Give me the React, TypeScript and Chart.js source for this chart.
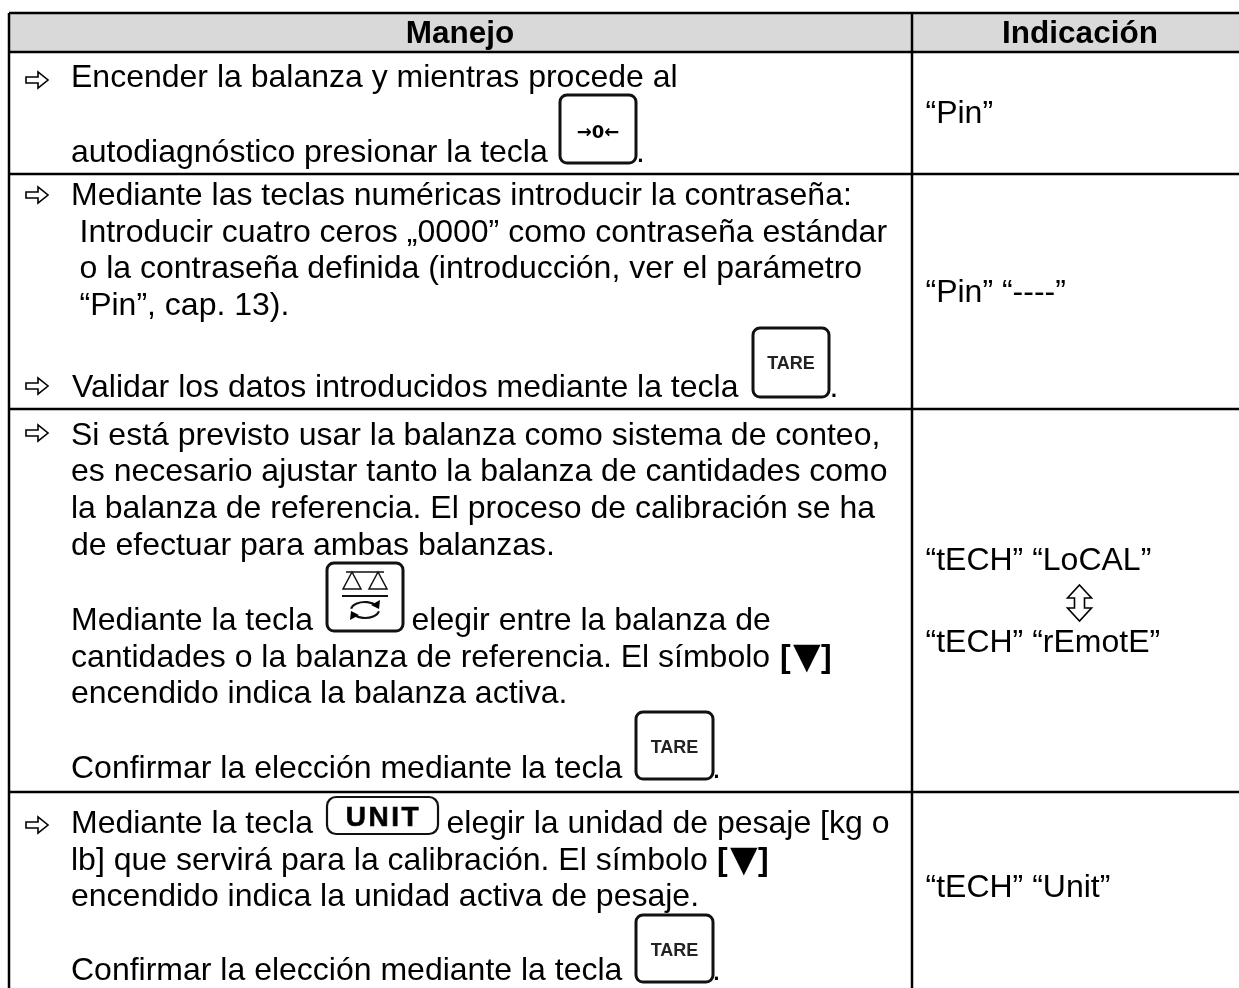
import React, { useEffect, useRef } from "react";
import { Chart, registerables } from "chart.js";

Chart.register(...registerables);

const headerLabels = ["Manejo", "Indicación"];
const leftColumnLines = [
  "Encender la balanza y mientras procede al",
  "autodiagnóstico presionar la tecla",
  ".",
  "Mediante las teclas numéricas introducir la contraseña:",
  "Introducir cuatro ceros „0000” como contraseña estándar",
  "o la contraseña definida (introducción, ver el parámetro",
  "“Pin”, cap. 13).",
  "Validar los datos introducidos mediante la tecla",
  ".",
  "Si está previsto usar la balanza como sistema de conteo,",
  "es necesario ajustar tanto la balanza de cantidades como",
  "la balanza de referencia. El proceso de calibración se ha",
  "de efectuar para ambas balanzas.",
  "Mediante la tecla",
  "elegir entre la balanza de",
  "cantidades o la balanza de referencia. El símbolo",
  "encendido indica la balanza activa.",
  "Confirmar la elección mediante la tecla",
  ".",
  "Mediante la tecla",
  "elegir la unidad de pesaje [kg o",
  "lb] que servirá para la calibración. El símbolo",
  "encendido indica la unidad activa de pesaje.",
  "Confirmar la elección mediante la tecla",
  ".",
];
const leftLineX = [71, 71, 636, 71, 79.5, 79.5, 79.5, 72, 829.5, 71, 71, 71, 71, 71, 411.5, 71, 71, 71, 712, 71, 446.5, 71, 71, 71, 712];
const leftLineY = [87, 162, 162, 205, 242, 278, 315, 397, 397, 445, 481, 518, 555, 630, 630, 667, 703, 778, 778, 833, 833, 870, 906, 980, 980];
const boldMarkX = [780, 717];
const boldMarkY = [667, 870];
const rightLines = ["“Pin”", "“Pin” “----”", "“tECH” “LoCAL”", "“tECH” “rEmotE”", "“tECH” “Unit”"];
const rightLineX = [925.5, 925.5, 925.5, 925.5, 925.5];
const rightLineY = [123, 302, 570, 652, 897];
const arrowRowY = [80, 195, 386, 433, 825];
const horizontalRules = [13, 52, 174, 409, 792];
const verticalRules = [9, 912];
const tableRight = 1239;
const tableBottom = 988;
const keyLabels = ["→0←", "TARE", "", "TARE", "UNIT", "TARE"];
const keyLeft = [560, 753, 327, 636, 327, 636];
const keyRight = [636, 829, 403, 713, 438, 713];
const keyTop = [95, 328, 563, 712, 797, 915];
const keyBottom = [163, 397, 631, 779, 834, 982];

const FONT = '"Liberation Sans", Arial, sans-serif';
const SIZE = 32;

function App() {
  const ref = useRef<HTMLCanvasElement>(null);
  useEffect(() => {
    const canvas = ref.current;
    if (!canvas) return;

    const tablePlugin = {
      id: "tablePlugin",
      afterDatasetsDraw(chart: any) {
        const ctx: CanvasRenderingContext2D = chart.ctx;
        const sx = (v: number) => chart.scales.x.getPixelForValue(v);
        const sy = (v: number) => chart.scales.y.getPixelForValue(v);
        ctx.save();
        ctx.fillStyle = "#000";
        ctx.textBaseline = "alphabetic";
        ctx.textAlign = "left";

        ctx.font = `bold 31.5px ${FONT}`;
        ctx.textAlign = "center";
        ctx.fillText(headerLabels[0], sx(460), sy(43));
        ctx.fillText(headerLabels[1], sx(1080), sy(43));
        ctx.textAlign = "left";

        ctx.font = `${SIZE}px ${FONT}`;
        leftColumnLines.forEach((t, i) => ctx.fillText(t, sx(leftLineX[i]), sy(leftLineY[i])));
        rightLines.forEach((t, i) => ctx.fillText(t, sx(rightLineX[i]), sy(rightLineY[i])));

        boldMarkX.forEach((x, i) => {
          const y = sy(boldMarkY[i]);
          ctx.font = `bold ${SIZE}px ${FONT}`;
          ctx.fillText("[", sx(x), y);
          ctx.fillText("]", sx(x + 41), y);
          ctx.font = `bold 36px "DejaVu Sans"`;
          ctx.fillText("▼", sx(x + 13), y + 1);
        });

        ctx.strokeStyle = "#000";
        arrowRowY.forEach((cy) => {
          const cx = 37;
          ctx.beginPath();
          ctx.moveTo(sx(cx - 11), sy(cy - 3));
          ctx.lineTo(sx(cx + 1), sy(cy - 3));
          ctx.lineTo(sx(cx + 1), sy(cy - 8));
          ctx.lineTo(sx(cx + 11), sy(cy));
          ctx.lineTo(sx(cx + 1), sy(cy + 8));
          ctx.lineTo(sx(cx + 1), sy(cy + 3));
          ctx.lineTo(sx(cx - 11), sy(cy + 3));
          ctx.closePath();
          ctx.lineWidth = 1.6;
          ctx.stroke();
        });

        // up-down hollow arrow
        const dx = 1079.5;
        ctx.beginPath();
        const pts: [number, number][] = [
          [0, 585], [12, 598], [5, 598], [5, 608], [12, 608], [0, 621], [-12, 608], [-5, 608], [-5, 598], [-12, 598],
        ];
        pts.forEach(([a, b], i) => (i ? ctx.lineTo(sx(dx + a), sy(b)) : ctx.moveTo(sx(dx + a), sy(b))));
        ctx.closePath();
        ctx.lineWidth = 1.6;
        ctx.stroke();

        // key caps
        keyLabels.forEach((label, i) => {
          const l = sx(keyLeft[i]), r = sx(keyRight[i]), t = sy(keyTop[i]), b = sy(keyBottom[i]);
          ctx.beginPath();
          ctx.roundRect(l, t, r - l, b - t, label === "UNIT" ? 9 : 7);
          ctx.lineWidth = label === "UNIT" ? 2.2 : 3;
          ctx.strokeStyle = "#111";
          ctx.stroke();
          ctx.textAlign = "center";
          const cx = (l + r) / 2;
          if (label === "UNIT") {
            ctx.font = `bold 28px ${FONT}`;
            (ctx as any).letterSpacing = "2.5px";
            ctx.lineWidth = 0.7;
            ctx.fillText(label, cx + 1, b - 8);
            ctx.strokeText(label, cx + 1, b - 8);
            (ctx as any).letterSpacing = "0px";
          } else if (label === "TARE") {
            ctx.font = `bold 18px ${FONT}`;
            ctx.fillStyle = "#222";
            ctx.fillText(label, cx, t + 41);
            ctx.fillStyle = "#000";
          } else if (label) {
            ctx.font = `bold 18px "DejaVu Sans"`;
            ctx.fillText(label, cx, t + 43);
          } else {
            // balance + refresh symbol
            ctx.lineWidth = 1.5;
            ctx.beginPath();
            ctx.moveTo(cx - 19, t + 9); ctx.lineTo(cx + 19, t + 9);
            ctx.moveTo(cx - 13, t + 9); ctx.lineTo(cx - 22, t + 26); ctx.lineTo(cx - 4, t + 26); ctx.closePath();
            ctx.moveTo(cx + 13, t + 9); ctx.lineTo(cx + 4, t + 26); ctx.lineTo(cx + 22, t + 26); ctx.closePath();
            ctx.stroke();
            ctx.lineWidth = 2.2;
            ctx.beginPath();
            ctx.moveTo(cx - 23, t + 33); ctx.lineTo(cx + 23, t + 33);
            ctx.stroke();
            ctx.beginPath();
            ctx.ellipse(cx, t + 47, 14, 8, 0, Math.PI * 1.05, Math.PI * 1.8);
            ctx.stroke();
            ctx.beginPath();
            ctx.ellipse(cx, t + 47, 14, 8, 0, Math.PI * 0.05, Math.PI * 0.8);
            ctx.stroke();
            ctx.beginPath();
            ctx.moveTo(cx + 15, t + 37); ctx.lineTo(cx + 14, t + 46); ctx.lineTo(cx + 6, t + 42); ctx.closePath();
            ctx.moveTo(cx - 15, t + 57); ctx.lineTo(cx - 14, t + 48); ctx.lineTo(cx - 6, t + 52); ctx.closePath();
            ctx.fill();
          }
          ctx.textAlign = "left";
        });
        ctx.restore();
      },
    };

    const ruleDatasets = [
      ...horizontalRules.map((y) => ({
        type: "line" as const,
        data: [{ x: verticalRules[0], y }, { x: tableRight, y }],
        borderColor: "#000",
        borderWidth: 2.5,
        pointRadius: 0,
      })),
      ...verticalRules.map((x) => ({
        type: "line" as const,
        data: [{ x, y: horizontalRules[0] }, { x, y: tableBottom }],
        borderColor: "#000",
        borderWidth: 2.5,
        pointRadius: 0,
      })),
      {
        type: "line" as const,
        data: [{ x: verticalRules[0], y: horizontalRules[1] }, { x: tableRight, y: horizontalRules[1] }],
        borderWidth: 0,
        backgroundColor: "#d9d9d9",
        fill: { value: horizontalRules[0] },
        pointRadius: 0,
        order: 10,
      },
    ];

    const chart = new Chart(canvas, {
      type: "line",
      data: { datasets: ruleDatasets as any },
      options: {
        animation: false,
        responsive: false,
        layout: { padding: 0 },
        parsing: false,
        plugins: { legend: { display: false }, tooltip: { enabled: false }, title: { display: false } },
        scales: {
          x: { type: "linear", min: 0, max: 1239, display: false },
          y: { type: "linear", min: 0, max: 988, reverse: true, display: false },
        },
      },
      plugins: [tablePlugin],
    });
    return () => chart.destroy();
  }, []);

  return (
    <div style={{ position: "fixed", left: 0, top: 0, width: 1239, height: 988, background: "#fff" }}>
      <canvas ref={ref} width={1239} height={988} style={{ display: "block" }} />
    </div>
  );
}

export default App;
